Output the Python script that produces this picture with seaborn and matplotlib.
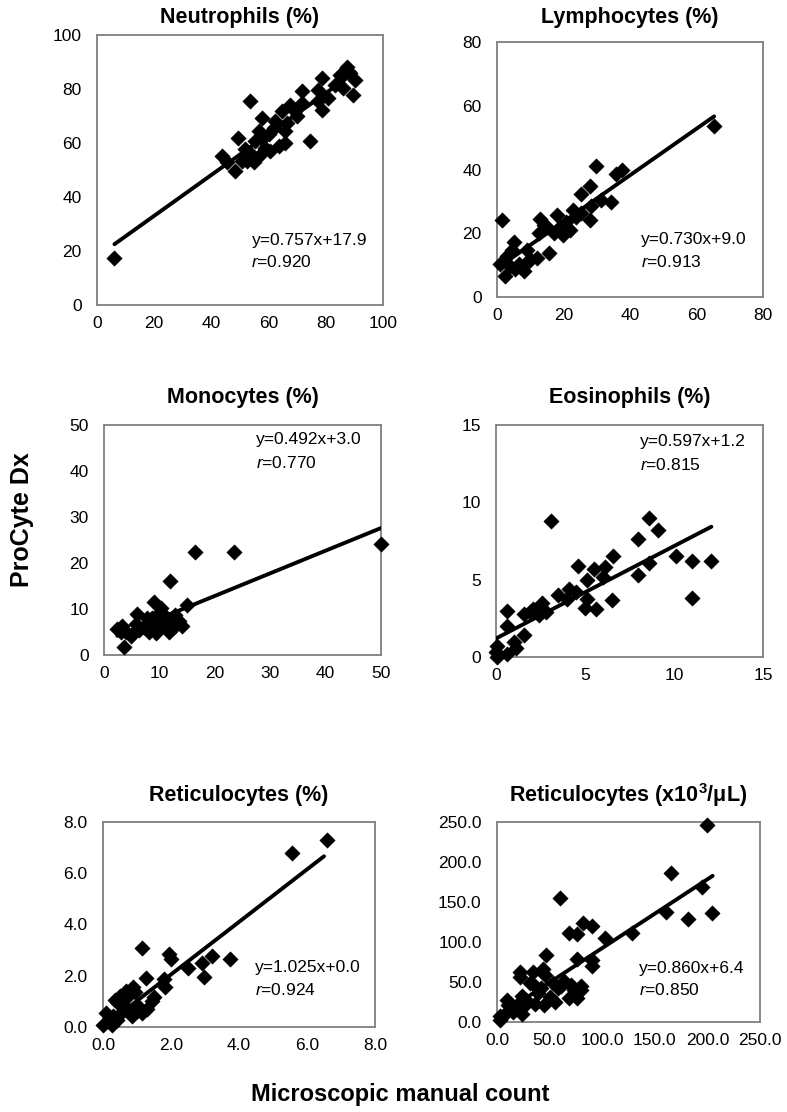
import matplotlib
matplotlib.use("Agg")
import matplotlib.pyplot as plt
import seaborn as sns
import pandas as pd
import numpy as np

sns.set_style("white")
plt.rcParams["font.family"] = ["Liberation Sans", "DejaVu Sans"]
plt.rcParams["text.color"] = "black"
plt.rcParams["mathtext.fontset"] = "custom"
plt.rcParams["mathtext.it"] = "Liberation Sans:italic"
plt.rcParams["mathtext.rm"] = "Liberation Sans"
plt.rcParams["mathtext.bf"] = "Liberation Sans:bold"

# ---- data ----
neut_x = [6.1, 53.6, 49.4, 43.6, 45.5, 48.4, 51.9, 52.5, 54.8, 57.7, 56.5, 58.9, 60.0, 61.8,
          63.5, 65.8, 64.7, 67.6, 66.4, 69.9, 71.6, 71.6, 74.5, 77.4, 78.6, 77.4, 78.6, 80.9,
          83.2, 84.9, 87.3, 88.4, 86.1, 90.2, 89.6, 57.7, 55.4, 60.6, 56.5, 62.4, 69.3, 65.8,
          50.8, 53.6]
neut_y = [17.5, 75.5, 62.0, 55.2, 52.8, 49.7, 57.7, 53.4, 52.8, 69.3, 64.4, 58.3, 63.2, 65.6,
          58.9, 60.1, 71.8, 74.2, 67.5, 70.0, 79.1, 74.8, 60.7, 79.8, 84.0, 75.5, 72.4, 76.7,
          81.6, 85.3, 88.3, 85.9, 80.4, 83.4, 77.7, 61.3, 60.7, 57.1, 55.2, 68.1, 71.8, 64.4,
          53.4, 56.4]

lymph_x = [1.5, 65.3, 29.9, 35.7, 37.7, 28.1, 25.4, 34.4, 31.4, 27.9, 28.4, 25.4, 22.9, 17.9,
           13.0, 14.0, 12.5, 21.9, 18.9, 20.9, 15.5, 12.0, 9.0, 5.0, 4.5, 3.0, 1.0, 2.5, 8.0,
           5.5, 4.0, 10.0, 17.0, 19.9, 23.9, 15.0, 6.5, 9.0]
lymph_y = [24.1, 53.6, 41.0, 38.5, 39.7, 34.9, 32.3, 29.9, 30.3, 24.1, 28.7, 26.2, 27.2, 25.6,
           24.6, 22.6, 20.0, 21.0, 22.0, 23.6, 13.8, 12.3, 14.9, 17.4, 14.9, 12.8, 10.3, 6.7,
           8.2, 8.7, 9.7, 11.8, 20.0, 19.5, 25.1, 22.1, 10.3, 10.8]

mono_x = [50.0, 16.5, 23.5, 12.0, 15.0, 6.0, 9.0, 3.6, 2.4, 3.3, 4.8, 5.7, 7.2, 8.7, 9.3, 10.2,
          10.8, 11.7, 12.3, 12.9, 14.1, 13.5, 9.9, 7.8, 11.1, 3.9, 6.3, 8.4, 9.6, 12.6, 3.0, 8.1]
mono_y = [24.1, 22.3, 22.3, 16.1, 10.9, 9.0, 11.6, 1.8, 5.7, 6.4, 4.1, 6.7, 6.1, 8.0, 4.7, 10.3,
          8.7, 5.1, 7.7, 8.7, 6.4, 7.4, 7.0, 8.0, 6.1, 5.1, 5.4, 6.1, 8.7, 6.1, 5.1, 5.1]

eos_x = [3.1, 8.6, 9.1, 8.0, 10.1, 11.0, 12.1, 11.0, 8.0, 8.6, 6.6, 6.5, 6.1, 6.0, 5.5, 5.1,
         4.6, 5.0, 5.6, 5.1, 4.5, 4.1, 3.5, 4.0, 2.6, 2.5, 2.1, 1.9, 1.6, 0.6, 0.6, 1.6, 1.1,
         1.0, 0.6, 0.05, 0.0, 0.05, 2.8, 2.4]
eos_y = [8.8, 9.0, 8.2, 7.6, 6.5, 6.2, 6.2, 3.8, 5.3, 6.1, 6.5, 3.7, 5.8, 5.2, 5.7, 5.0,
         5.9, 3.2, 3.1, 3.75, 4.2, 4.4, 4.0, 3.75, 3.5, 3.2, 3.1, 2.9, 2.8, 3.0, 2.0, 1.4, 0.6,
         1.0, 0.2, 0.0, 0.3, 0.7, 2.9, 2.7]

retp_x = [5.55, 6.6, 1.16, 1.93, 2.0, 3.22, 2.92, 3.73, 2.5, 2.97, 1.26, 1.78, 1.81, 1.49,
          1.44, 1.29, 1.14, 0.89, 0.94, 0.74, 0.5, 0.35, 0.45, 0.64, 0.79, 0.99, 0.54, 0.3,
          0.1, 0.15, 0.0, 0.25, 1.04, 0.84, 0.4, 0.69]
retp_y = [6.8, 7.3, 3.1, 2.86, 2.66, 2.76, 2.5, 2.66, 2.3, 1.96, 1.9, 1.86, 1.57, 1.17,
          1.02, 0.72, 0.53, 1.57, 1.37, 1.22, 1.22, 1.07, 0.92, 0.77, 0.63, 0.63, 0.53, 0.43,
          0.53, 0.23, 0.08, 0.08, 0.82, 0.43, 0.28, 1.42]

reta_x = [200.0, 165.6, 195.0, 204.7, 160.3, 181.9, 128.0, 103.0, 60.3, 82.2, 90.6, 68.0, 76.0,
          46.3, 75.6, 90.6, 90.6, 21.9, 21.9, 34.4, 43.8, 45.3, 31.3, 35.9, 42.2, 39.0, 53.0,
          57.8, 64.0, 70.3, 73.4, 76.5, 79.7, 68.8, 76.0, 50.0, 54.7, 35.9, 44.7, 23.4, 28.0,
          20.3, 9.4, 10.9, 15.6, 23.4, 25.0, 3.1, 3.1, 7.8, 60.9, 79.7]
reta_y = [246.0, 186.0, 168.7, 136.4, 137.7, 128.2, 111.7, 104.4, 155.4, 123.7, 119.6, 111.0,
          110.0, 83.2, 78.5, 77.5, 70.0, 62.7, 56.3, 62.7, 65.8, 58.5, 48.4, 45.3, 42.1, 35.8,
          48.4, 42.0, 51.6, 46.8, 40.5, 35.8, 45.3, 29.4, 29.4, 31.0, 24.7, 23.1, 21.5, 32.6,
          27.8, 23.1, 27.8, 21.5, 12.0, 10.4, 18.4, 7.3, 2.5, 10.4, 45.3, 40.5]

titles = ["Neutrophils (%)", "Lymphocytes (%)", "Monocytes (%)", "Eosinophils (%)",
          "Reticulocytes (%)", "Reticulocytes (x10$^\\mathbf{3}$/\u03bcL)"]
slopes = [0.757, 0.730, 0.492, 0.597, 1.025, 0.860]
intercepts = [17.9, 9.0, 3.0, 1.2, 0.0, 6.4]
r_values = ["0.920", "0.913", "0.770", "0.815", "0.924", "0.850"]
line_x = [(6.1, 90.2), (1.0, 65.3), (2.4, 50.0), (0.0, 12.1), (0.0, 6.5), (3.1, 205.0)]
axis_max = [100, 80, 50, 15, 8.0, 250.0]
x_ticks = [[0, 20, 40, 60, 80, 100], [0, 20, 40, 60, 80], [0, 10, 20, 30, 40, 50],
           [0, 5, 10, 15], [0, 2, 4, 6, 8], [0, 50, 100, 150, 200, 250]]
y_ticks = [[0, 20, 40, 60, 80, 100], [0, 20, 40, 60, 80], [0, 10, 20, 30, 40, 50],
           [0, 5, 10, 15], [0, 2, 4, 6, 8], [0, 50, 100, 150, 200, 250]]
decimal_fmt = [False, False, False, False, True, True]

panels = [(neut_x, neut_y), (lymph_x, lymph_y), (mono_x, mono_y),
          (eos_x, eos_y), (retp_x, retp_y), (reta_x, reta_y)]

# layout in pixels: left, right, top, bottom
W, H = 787, 1112
boxes = [(97, 383, 35, 305), (497, 763, 42, 297), (104, 381, 425, 655),
         (496, 763, 425, 657), (103, 375, 822, 1027), (497, 760, 822, 1022)]
title_y = [17, 17, 398, 398, 795, 795]
# equation text position in axes fraction (x, y line1, y line2)
eq_pos = [(0.54, 0.24, 0.16), (0.54, 0.227, 0.137), (0.55, 0.935, 0.835),
          (0.54, 0.927, 0.828), (0.56, 0.288, 0.18), (0.54, 0.27, 0.16)]

fig = plt.figure(figsize=(W / 100, H / 100), dpi=100)

for i, (xs, ys) in enumerate(panels):
    l, r, t, b = boxes[i]
    ax = fig.add_axes([l / W, 1 - b / H, (r - l) / W, (b - t) / H])
    df = pd.DataFrame({"x": xs, "y": ys})
    sns.scatterplot(data=df, x="x", y="y", ax=ax, marker="D", s=62, color="black",
                    edgecolor="black", linewidth=0.3, zorder=3, clip_on=False)
    lx = np.array(line_x[i])
    line_df = pd.DataFrame({"x": lx, "y": slopes[i] * lx + intercepts[i]})
    sns.lineplot(data=line_df, x="x", y="y", ax=ax, color="black", linewidth=2.8, zorder=4)

    ax.set_xlim(0, axis_max[i])
    ax.set_ylim(0, axis_max[i])
    ax.set_xticks(x_ticks[i])
    ax.set_yticks(y_ticks[i])
    if decimal_fmt[i]:
        ax.set_xticklabels([f"{v:.1f}" for v in x_ticks[i]])
        ax.set_yticklabels([f"{v:.1f}" for v in y_ticks[i]])
    ax.set_xlabel("")
    ax.set_ylabel("")
    ax.tick_params(direction="in", length=4, width=0.8, color="#808080",
                   labelsize=12.5, labelcolor="black")
    ax.tick_params(axis="x", pad=8)
    ax.tick_params(axis="y", pad=11)
    for sp in ax.spines.values():
        sp.set_color("#808080")
        sp.set_linewidth(1.3)
        sp.set_visible(True)

    ex, ey1, ey2 = eq_pos[i]
    ax.text(ex, ey1, f"y={slopes[i]:.3f}x+{intercepts[i]:.1f}", transform=ax.transAxes,
            fontsize=12.5, va="center", ha="left")
    ax.text(ex, ey2, f"$\\mathit{{r}}$={r_values[i]}", transform=ax.transAxes,
            fontsize=12.5, va="center", ha="left")

    fig.text((l + r) / 2 / W, 1 - title_y[i] / H, titles[i], ha="center", va="center",
             fontsize=15.5, fontweight="bold")

fig.text(22 / W, 1 - 520 / H, "ProCyte Dx", rotation=90, ha="center", va="center",
         fontsize=18, fontweight="bold")
fig.text(400 / W, 1 - 1095 / H, "Microscopic manual count", ha="center", va="center",
         fontsize=17, fontweight="bold")

fig.savefig("out.png", dpi=100)
